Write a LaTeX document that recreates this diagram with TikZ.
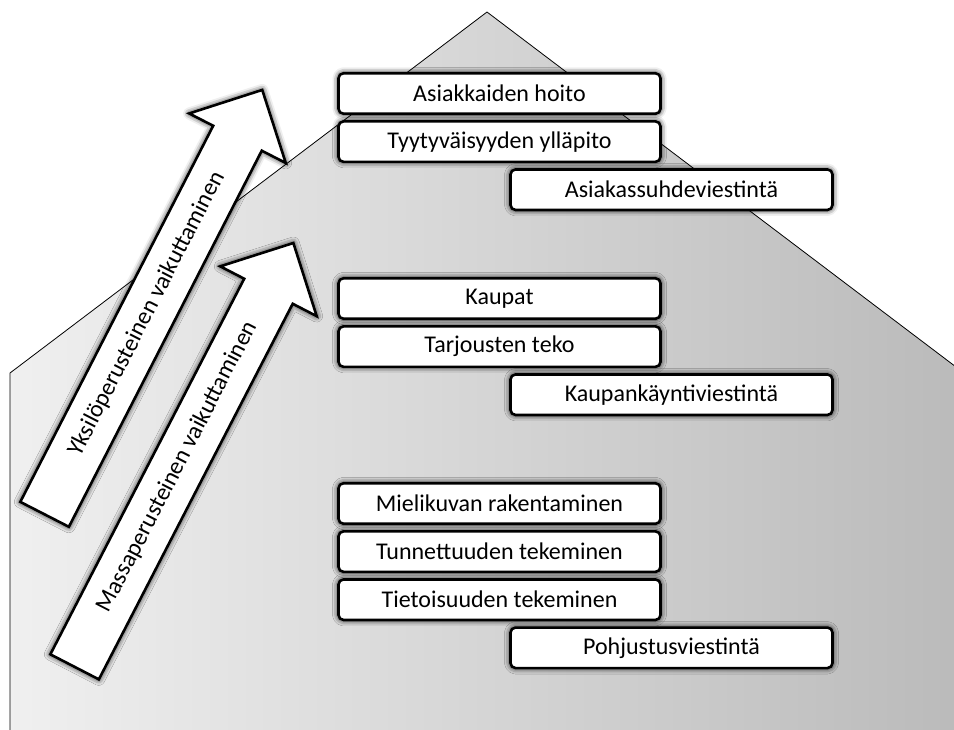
\documentclass[tikz,border=0pt]{standalone}
\usepackage{fontspec}
\setmainfont{Carlito}
\usetikzlibrary{shapes.arrows,shadows.blur}
\usetikzlibrary{positioning}

\begin{document}
\begin{tikzpicture}[x=1pt,y=-1pt,
boxnode/.style={rectangle, rounded corners=5pt, draw=black, fill=white, line width=2.6pt,
minimum width=322pt, minimum height=40.5pt, inner sep=0pt, font=\fontsize{24}{28}\selectfont,
blur shadow={shadow xshift=0pt, shadow yshift=0pt, shadow blur radius=6pt, shadow opacity=100},
},
arrownode/.style={single arrow, draw=black, fill=white, line width=2.6pt,
minimum height=477pt, single arrow head extend=27pt, inner xsep=4pt, inner ysep=15pt,
text height=17pt, text depth=5pt, font=\fontsize{24}{28}\selectfont,
blur shadow={shadow xshift=0pt, shadow yshift=0pt, shadow blur radius=6pt, shadow opacity=100},
}]
\useasboundingbox (0,0) rectangle (954,729);
%House
\begin{scope}
\clip (0,0) rectangle (954,729);
\draw[line width=0.8pt, left color=black!6, right color=black!27]
  (10,740) -- (10,373) -- (487,12) -- (964,373) -- (964,740);
\end{scope}

%Arrows
\node[arrownode, rotate=62.85, anchor=tail] (yksilo) at (44,515.5) {Yksilöperusteinen vaikuttaminen};
\node[arrownode, rotate=62.7, anchor=tail]  (massa)  at (74,668)   {Massaperusteinen vaikuttaminen};

%Nodes
\node[boxnode] (hoito)   at (499.5,93.5)             {Asiakkaiden hoito};
\node[boxnode] (tyyt)    [below=5pt of hoito]        {Tyytyväisyyden ylläpito};
\node[boxnode] (asviest) [below=5pt of tyyt, xshift=172pt] {Asiakassuhdeviestintä};

\node[boxnode] (kaupat)  at (499.5,298.5)            {Kaupat};
\node[boxnode] (tarj)    [below=5pt of kaupat]       {Tarjousten teko};
\node[boxnode] (kviest)  [below=5pt of tarj, xshift=172pt] {Kaupankäyntiviestintä};

\node[boxnode] (mieli)   at (499.5,503.5)            {Mielikuvan rakentaminen};
\node[boxnode] (tunn)    [below=5pt of mieli]        {Tunnettuuden tekeminen};
\node[boxnode] (tieto)   [below=5pt of tunn]         {Tietoisuuden tekeminen};
\node[boxnode] (pviest)  [below=5pt of tieto, xshift=172pt] {Pohjustusviestintä};
\end{tikzpicture}
\end{document}
